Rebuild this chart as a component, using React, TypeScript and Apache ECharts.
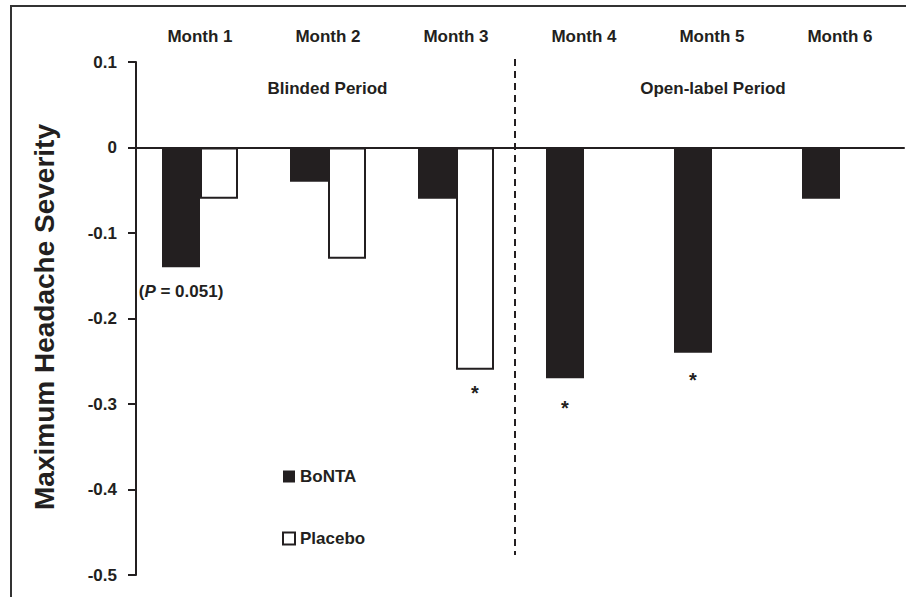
import React, { useEffect, useRef } from "react";
import * as echarts from "echarts";

const months = ["Month 1", "Month 2", "Month 3", "Month 4", "Month 5", "Month 6"];
const bontaValues = [-0.14, -0.04, -0.06, -0.27, -0.24, -0.06];
const placeboValues: (number | null)[] = [-0.06, -0.13, -0.26, null, null, null];
const yTicks = { min: -0.5, max: 0.1, interval: 0.1 };
// annotations: index -> text
const bontaStars = [3, 4];
const placeboStars = [2];
const pValueIndex = 0;

const FONT = "'Liberation Sans', Arial, Helvetica, sans-serif";
const INK = "#231f20";

export default function App() {
  const ref = useRef<HTMLDivElement>(null);

  useEffect(() => {
    if (!ref.current) return;
    const chart = echarts.init(ref.current, undefined, { renderer: "svg" });

    const starDist: Record<number, number> = { 2: 13, 3: 20, 4: 17 };

    const bontaData = bontaValues.map((v, i) => {
      if (i === pValueIndex) {
        return {
          value: v,
          label: {
            show: true,
            position: "bottom",
            distance: 16,
            formatter: "{a|(}{b|P}{a| = 0.051)}",
            rich: {
              a: { fontFamily: FONT, fontSize: 17, fontWeight: "bold", color: INK },
              b: { fontFamily: FONT, fontSize: 17, fontWeight: "bold", fontStyle: "italic", color: INK },
            },
          },
        };
      }
      if (bontaStars.includes(i)) {
        return {
          value: v,
          label: {
            show: true,
            position: "bottom",
            distance: starDist[i],
            formatter: "*",
            fontFamily: FONT,
            fontSize: 20,
            fontWeight: "bold",
            color: INK,
          },
        };
      }
      return v;
    });

    const placeboData = placeboValues.map((v, i) => {
      if (placeboStars.includes(i) && v !== null) {
        return {
          value: v,
          label: {
            show: true,
            position: "bottom",
            distance: starDist[i],
            formatter: "*",
            fontFamily: FONT,
            fontSize: 20,
            fontWeight: "bold",
            color: INK,
          },
        };
      }
      return v;
    });

    chart.setOption({
      animation: false,
      backgroundColor: "#ffffff",
      textStyle: { fontFamily: FONT, color: INK },
      grid: { left: 136, right: 2, top: 62, bottom: 22, containLabel: false },
      legend: {
        orient: "vertical",
        left: 282,
        top: 468,
        padding: 0,
        itemWidth: 12,
        itemHeight: 12,
        itemGap: 45,
        selectedMode: false,
        icon: "rect",
        textStyle: { fontFamily: FONT, fontSize: 17, fontWeight: "bold", color: INK },
        data: ["BoNTA", "Placebo"],
      },
      xAxis: [
        {
          type: "category",
          data: months,
          position: "bottom",
          axisLine: { show: true, onZero: true, lineStyle: { color: INK, width: 2 } },
          axisTick: { show: false },
          axisLabel: { show: false },
          splitLine: { show: false },
        },
        {
          type: "category",
          data: months,
          position: "top",
          axisLine: { show: false, onZero: false },
          axisTick: { show: false },
          axisLabel: {
            show: true,
            margin: 17,
            fontFamily: FONT,
            fontSize: 17,
            fontWeight: "bold",
            color: INK,
          },
          splitLine: { show: false },
        },
      ],
      yAxis: {
        type: "value",
        min: yTicks.min,
        max: yTicks.max,
        interval: yTicks.interval,
        axisLine: { show: true, lineStyle: { color: INK, width: 2 } },
        axisTick: { show: true, inside: false, length: 8, lineStyle: { color: INK, width: 2 } },
        axisLabel: {
          margin: 19,
          fontFamily: FONT,
          fontSize: 17,
          fontWeight: "bold",
          color: INK,
          formatter: (v: number) => (Math.abs(v) < 1e-9 ? "0" : v.toFixed(1)),
        },
        splitLine: { show: false },
      },
      series: [
        {
          name: "BoNTA",
          type: "bar",
          xAxisIndex: 0,
          data: bontaData,
          barWidth: 38,
          barGap: "0%",
          itemStyle: { color: INK, borderColor: INK, borderWidth: 0 },
        },
        {
          name: "Placebo",
          type: "bar",
          xAxisIndex: 0,
          data: placeboData,
          barWidth: 38,
          barGap: "0%",
          itemStyle: { color: "#ffffff", borderColor: INK, borderWidth: 2 },
        },
      ],
      graphic: [
        {
          type: "rect",
          shape: { x: 11, y: 6, width: 1200, height: 1200 },
          style: { fill: "none", stroke: "#333333", lineWidth: 2 },
          silent: true,
        },
        {
          type: "line",
          shape: { x1: 515, y1: 59, x2: 515, y2: 555 },
          style: { stroke: INK, lineWidth: 2, lineDash: [7, 5] },
          silent: true,
        },
        {
          type: "text",
          x: 327.5,
          y: 88,
          style: {
            text: "Blinded Period",
            fontFamily: FONT,
            fontSize: 17,
            fontWeight: "bold",
            fill: INK,
            align: "center",
            verticalAlign: "middle",
          },
        },
        {
          type: "text",
          x: 713,
          y: 88,
          style: {
            text: "Open-label Period",
            fontFamily: FONT,
            fontSize: 17,
            fontWeight: "bold",
            fill: INK,
            align: "center",
            verticalAlign: "middle",
          },
        },
        {
          type: "text",
          x: 44,
          y: 317,
          rotation: Math.PI / 2,
          style: {
            text: "Maximum Headache Severity",
            fontFamily: FONT,
            fontSize: 28,
            fontWeight: "bold",
            fill: INK,
            align: "center",
            verticalAlign: "middle",
          },
        },
      ],
    });

    return () => {
      chart.dispose();
    };
  }, []);

  return (
    <div
      ref={ref}
      style={{ position: "fixed", left: 0, top: 0, width: 906, height: 597, background: "#fff" }}
    />
  );
}
